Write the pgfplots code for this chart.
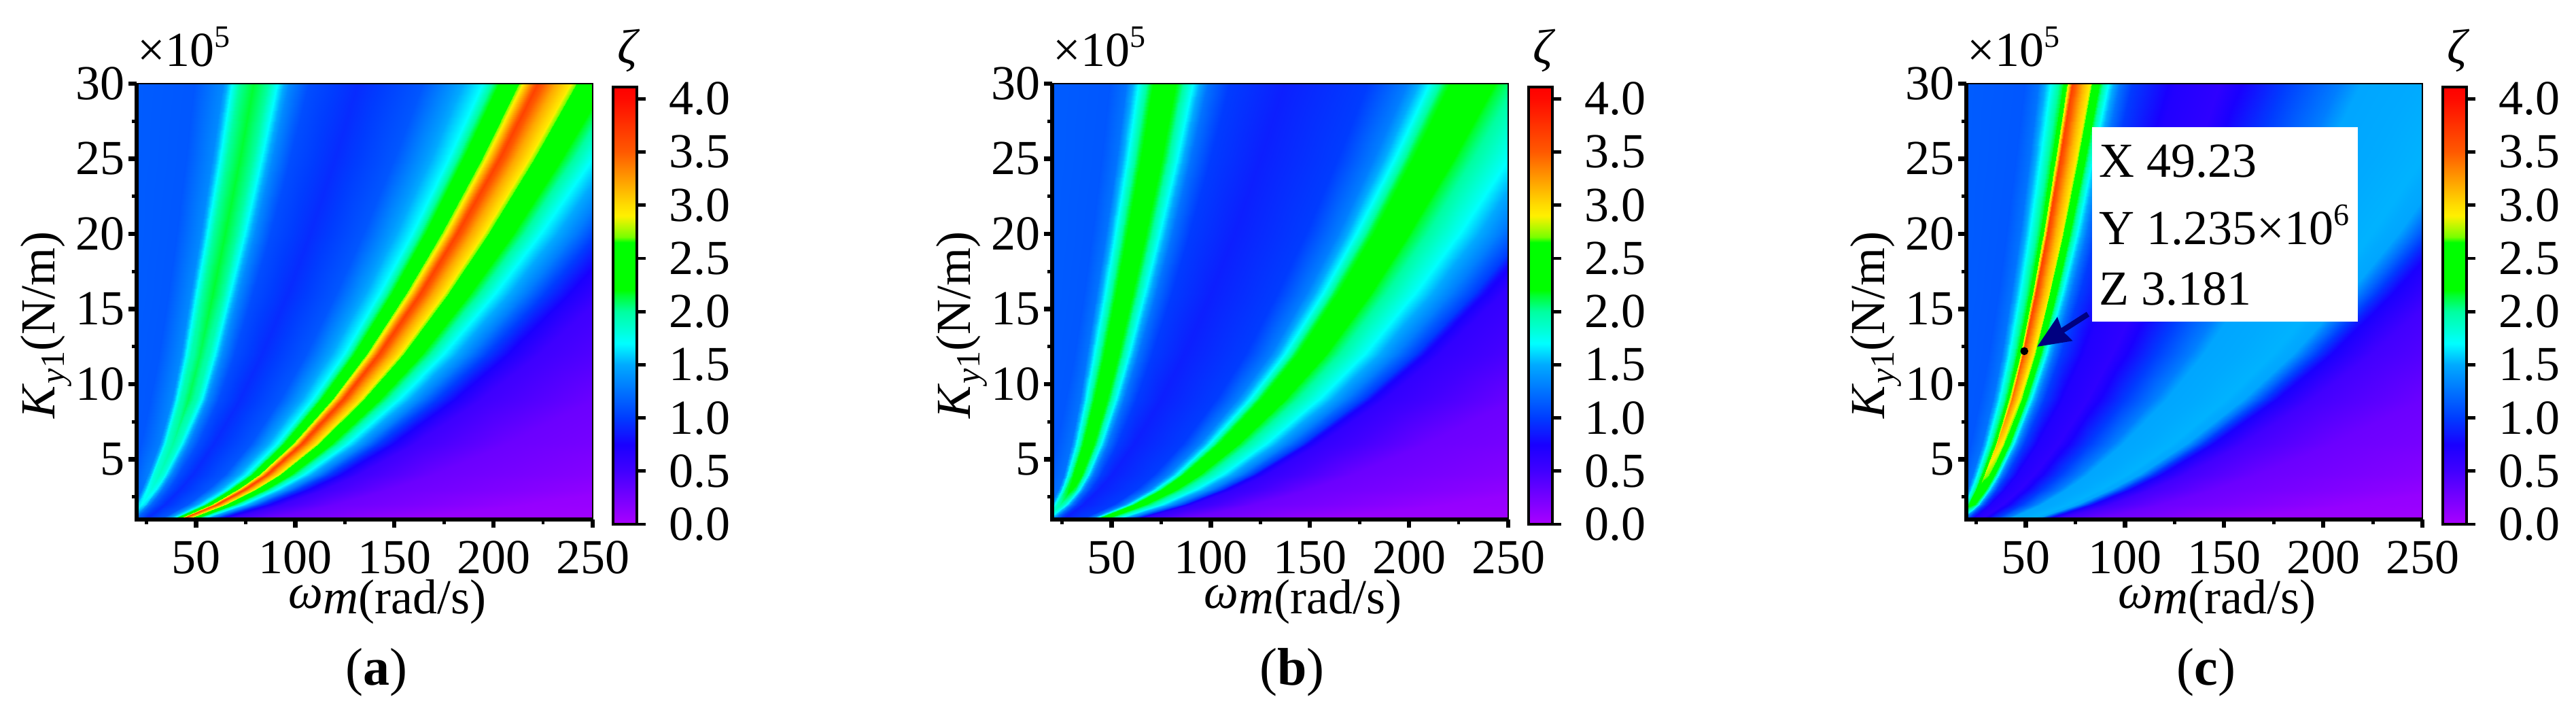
\documentclass[border=0pt]{standalone}
\usepackage{fontspec}
\setmainfont{Liberation Serif}
\usepackage{pgfplots}
\pgfplotsset{compat=1.18}
\usetikzlibrary{arrows.meta}

% 1 px of the reference = 0.25pt
\pgfplotsset{
  colormap={zeta}{
    rgb255(0pt)=(170,0,255); rgb255(50pt)=(65,0,255); rgb255(75pt)=(25,0,255);
    rgb255(100pt)=(0,60,255); rgb255(150pt)=(0,170,255); rgb255(170pt)=(0,255,255);
    rgb255(200pt)=(0,255,160); rgb255(215pt)=(0,255,50); rgb255(220pt)=(0,255,0);
    rgb255(265pt)=(0,255,0); rgb255(270pt)=(120,255,0); rgb255(290pt)=(255,240,0);
    rgb255(300pt)=(255,220,0); rgb255(350pt)=(255,90,0); rgb255(400pt)=(255,10,0);
    rgb255(411pt)=(255,0,0)
  },
  panel/.style={
    scale only axis, width=167.75pt, height=160.3pt,
    anchor=south west,
    xmin=20, xmax=250, ymin=1, ymax=30,
    xtick={50,100,150,200,250}, minor xtick={25,75,125,175,225},
    ytick={5,10,15,20,25,30}, minor ytick={2.5,7.5,12.5,17.5,22.5,27.5},
    xtick pos=bottom, ytick pos=left, tick align=outside,
    axis on top,
    axis line style={line width=0.6pt},
    major tick length=3pt, minor tick length=1.7pt,
    every major tick/.append style={line width=1.6pt, black},
    every minor tick/.append style={line width=1.2pt, black},
    /pgf/number format/assume math mode=true,
    tick label style={font=\fontsize{18}{20}\selectfont, inner sep=0pt},
    xticklabel style={yshift=-4.6pt},
    yticklabel style={xshift=-1.2pt},
    point meta min=0, point meta max=4.11,
    colormap name=zeta,
    colorbar,
    colorbar style={
      at={(parent axis.south east)}, anchor=south west,
      xshift=-1pt, yshift=-1.75pt,
      width=8.75pt, height=160.75pt,
      ytick={0,0.5,1,1.5,2,2.5,3,3.5,4},
      yticklabel pos=right, ytick pos=right, tick align=outside,
      axis line style={line width=1pt},
      major tick length=3.2pt,
      every major tick/.append style={line width=1.2pt, black},
      /pgf/number format/assume math mode=true,
      /pgf/number format/fixed,
      /pgf/number format/fixed zerofill,
      /pgf/number format/precision=1,
      yticklabel shift=8.4pt,
      yticklabel style={font=\fontsize{18}{20}\selectfont, inner sep=0pt},
    },
    extra description/.code={\draw[line width=1.6pt] (0,1)--(0,0)--(1,0);},
  },
}

\begin{document}
\begin{tikzpicture}
\useasboundingbox (0,0) rectangle (947.5pt,-263pt);

% (a)
\begin{axis}[panel, at={(50.25pt,-191pt)}]
\addplot[surf, shader=interp, mesh/cols=30, point meta=explicit] coordinates {
(3,1)[1.15] (9,1)[1.12] (13.1,1)[1.15] (13.9,1)[1.25] (14.6,1)[1.35] (15.9,1)[1.4] (17.2,1)[1.35] (18.1,1)[1.25] (19.2,1)[1.15] (21,1)[1.08] (24,1)[.93] (31.5,1)[1.12] (34.5,1)[1.42] (37,1)[1.7] (38.3,1)[2.15] (40.3,1)[2.65] (40.8,1)[2.95] (42.1,1)[3.65] (43.7,1)[3.2] (45,1)[2.95] (45.7,1)[2.65] (48.7,1)[2.15] (51.5,1)[1.7] (55.3,1)[1.3] (57.9,1)[1] (61.3,1)[.72] (65.5,1)[.52] (84.5,1)[.3] (153.5,1)[.1] (301.5,1)[.02]
(4.2,2)[1.15] (12.7,2)[1.12] (18.5,2)[1.2] (19.6,2)[1.4] (20.6,2)[1.6] (22.5,2)[1.7] (24.3,2)[1.6] (25.6,2)[1.4] (27.1,2)[1.2] (29.7,2)[1.08] (33.9,2)[.93] (45.2,2)[1.12] (49.5,2)[1.42] (53,2)[1.7] (54.8,2)[2.15] (57.7,2)[2.65] (58.4,2)[2.95] (60.2,2)[3.65] (62.5,2)[3.2] (64.3,2)[2.95] (65.3,2)[2.65] (69.5,2)[2.15] (73.5,2)[1.7] (78.9,2)[1.3] (82.5,2)[1] (87.4,2)[.72] (93.3,2)[.52] (120.2,2)[.3] (217.6,2)[.1] (427,2)[.02]
(5.2,3)[1.15] (15.6,3)[1.12] (22.5,3)[1.25] (23.9,3)[1.5] (25.1,3)[1.7] (27.3,3)[1.8] (29.6,3)[1.7] (31.2,3)[1.5] (33.1,3)[1.25] (36.2,3)[1.08] (41.6,3)[.93] (55.7,3)[1.12] (60.9,3)[1.42] (65.2,3)[1.7] (67.4,3)[2.15] (70.9,3)[2.65] (71.8,3)[2.95] (74,3)[3.65] (76.8,3)[3.2] (79,3)[2.95] (80.3,3)[2.65] (85.5,3)[2.15] (90.3,3)[1.7] (96.9,3)[1.3] (101.4,3)[1] (107.3,3)[.72] (114.5,3)[.52] (147.5,3)[.3] (267,3)[.1] (523,3)[.02]
(6,4)[1.15] (18,4)[1.12] (25.6,4)[1.3] (27.2,4)[1.55] (28.6,4)[1.8] (31.2,4)[1.9] (33.8,4)[1.8] (35.6,4)[1.55] (37.8,4)[1.3] (41.4,4)[1.08] (48,4)[.93] (64.2,4)[1.12] (70.2,4)[1.42] (75.2,4)[1.7] (77.8,4)[2.15] (81.8,4)[2.65] (82.8,4)[2.95] (85.4,4)[3.65] (88.6,4)[3.2] (91.2,4)[2.95] (92.6,4)[2.65] (98.6,4)[2.15] (104.2,4)[1.7] (111.8,4)[1.3] (117,4)[1] (123.8,4)[.72] (132.2,4)[.52] (170.2,4)[.3] (308.2,4)[.1] (604,4)[.02]
(7.3,6)[1.15] (22,6)[1.12] (31.4,6)[1.3] (33.4,6)[1.6] (35.1,6)[1.85] (38.3,6)[2] (41.4,6)[1.85] (43.7,6)[1.6] (46.3,6)[1.3] (50.8,6)[1.08] (58.8,6)[.93] (77.1,6)[1.12] (84.4,6)[1.42] (90.5,6)[1.7] (93.7,6)[2.15] (98.6,6)[2.65] (99.8,6)[2.95] (103,6)[3.65] (106.9,6)[3.2] (110.1,6)[2.95] (111.8,6)[2.65] (119.2,6)[2.15] (126.1,6)[1.7] (135.4,6)[1.3] (141.7,6)[1] (150.1,6)[.72] (160.3,6)[.52] (206.9,6)[.3] (375.8,6)[.1] (738,6)[.02]
(9,9)[1.15] (27,9)[1.12] (37.8,9)[1.35] (40.2,9)[1.7] (42.3,9)[1.95] (46.2,9)[2.1] (50.1,9)[1.95] (52.8,9)[1.7] (56.1,9)[1.35] (61.5,9)[1.08] (72,9)[.93] (92.3,9)[1.12] (101.3,9)[1.42] (108.8,9)[1.7] (112.7,9)[2.15] (118.7,9)[2.65] (120.2,9)[2.95] (124.1,9)[3.65] (128.9,9)[3.2] (132.8,9)[2.95] (134.9,9)[2.65] (143.9,9)[2.15] (152.3,9)[1.7] (163.7,9)[1.3] (171.5,9)[1] (181.7,9)[.72] (194.3,9)[.52] (251.3,9)[.3] (458.3,9)[.1] (902,9)[.02]
(10.4,12)[1.15] (31.2,12)[1.12] (42.2,12)[1.35] (45,12)[1.7] (47.4,12)[1.95] (51.9,12)[2.1] (56.4,12)[1.95] (59.5,12)[1.7] (63.3,12)[1.35] (69.5,12)[1.08] (83.1,12)[.93] (105.4,12)[1.12] (115.8,12)[1.42] (124.5,12)[1.7] (129,12)[2.15] (135.9,12)[2.65] (137.6,12)[2.95] (142.1,12)[3.65] (147.7,12)[3.2] (152.2,12)[2.95] (154.6,12)[2.65] (165,12)[2.15] (174.7,12)[1.7] (187.9,12)[1.3] (196.9,12)[1] (208.6,12)[.72] (223.2,12)[.52] (289,12)[.3] (527.7,12)[.1] (1041,12)[.02]
(12,16)[1.15] (36,16)[1.12] (47.1,16)[1.35] (50.3,16)[1.7] (53.1,16)[2] (58.3,16)[2.15] (63.5,16)[2] (67.1,16)[1.7] (71.5,16)[1.35] (78.7,16)[1.08] (96,16)[.93] (120.5,16)[1.12] (132.5,16)[1.42] (142.5,16)[1.7] (147.7,16)[2.15] (155.7,16)[2.65] (157.7,16)[2.95] (162.9,16)[3.65] (169.3,16)[3.2] (174.5,16)[2.95] (177.3,16)[2.65] (189.3,16)[2.15] (200.5,16)[1.7] (215.7,16)[1.3] (226.1,16)[1] (239.7,16)[.72] (256.5,16)[.52] (332.5,16)[.3] (608.5,16)[.1] (1200,16)[.02]
(13.4,20)[1.15] (40.2,20)[1.12] (52.2,20)[1.35] (55.8,20)[1.7] (58.9,20)[2] (64.7,20)[2.15] (70.5,20)[2] (74.5,20)[1.7] (79.5,20)[1.35] (87.5,20)[1.08] (107.3,20)[.93] (134.2,20)[1.12] (147.6,20)[1.42] (158.8,20)[1.7] (164.6,20)[2.15] (173.5,20)[2.65] (175.8,20)[2.95] (181.6,20)[3.65] (188.7,20)[3.2] (194.5,20)[2.95] (197.7,20)[2.65] (211.1,20)[2.15] (223.6,20)[1.7] (240.6,20)[1.3] (252.2,20)[1] (267.4,20)[.72] (286.2,20)[.52] (371.2,20)[.3] (679.7,20)[.1] (1342,20)[.02]
(15,25)[1.15] (45,25)[1.12] (58,25)[1.35] (62,25)[1.7] (65.5,25)[2] (72,25)[2.15] (78.5,25)[2] (83,25)[1.7] (88.5,25)[1.35] (97.5,25)[1.08] (120,25)[.93] (150,25)[1.12] (165,25)[1.42] (177.5,25)[1.7] (184,25)[2.15] (194,25)[2.65] (196.5,25)[2.95] (203,25)[3.65] (211,25)[3.2] (217.5,25)[2.95] (221,25)[2.65] (236,25)[2.15] (250,25)[1.7] (269,25)[1.3] (282,25)[1] (299,25)[.72] (320,25)[.52] (415,25)[.3] (760,25)[.1] (1500,25)[.02]
(16.4,30)[1.15] (49.3,30)[1.12] (63.5,30)[1.35] (67.9,30)[1.7] (71.7,30)[2] (78.9,30)[2.15] (86,30)[2] (90.9,30)[1.7] (96.9,30)[1.35] (106.8,30)[1.08] (131.4,30)[.93] (164.3,30)[1.12] (180.7,30)[1.42] (194.4,30)[1.7] (201.6,30)[2.15] (212.5,30)[2.65] (215.2,30)[2.95] (222.4,30)[3.65] (231.1,30)[3.2] (238.2,30)[2.95] (242.1,30)[2.65] (258.5,30)[2.15] (273.9,30)[1.7] (294.7,30)[1.3] (308.9,30)[1] (327.5,30)[.72] (350.5,30)[.52] (454.6,30)[.3] (832.5,30)[.1] (1643,30)[.02]
};
\end{axis}

% (b)
\begin{axis}[panel, at={(387pt,-191pt)}]
\addplot[surf, shader=interp, mesh/cols=26, point meta=explicit] coordinates {
(3,1)[1.15] (9,1)[1.12] (13.5,1)[1.2] (14.6,1)[1.4] (15.7,1)[1.6] (17,1)[1.7] (18.3,1)[1.6] (19.6,1)[1.4] (21,1)[1.2] (23,1)[1] (25,1)[.88] (34.5,1)[1] (38.1,1)[1.3] (40.2,1)[1.7] (41.7,1)[2.15] (44.3,1)[2.45] (46.6,1)[2.15] (47.6,1)[2.05] (51.3,1)[1.75] (56.3,1)[1.3] (59.2,1)[1] (60.4,1)[.78] (62.8,1)[.6] (84.8,1)[.3] (153.8,1)[.1] (301.8,1)[.02]
(4.2,2)[1.15] (12.7,2)[1.12] (19.1,2)[1.25] (20.7,2)[1.6] (22.3,2)[1.9] (24.1,2)[2] (25.9,2)[1.9] (27.8,2)[1.6] (29.8,2)[1.25] (32.6,2)[1] (35.4,2)[.88] (50.7,2)[1] (55.8,2)[1.3] (58.8,2)[1.7] (60.9,2)[2.15] (64.6,2)[2.45] (67.8,2)[2.15] (69.3,2)[2.05] (74.5,2)[1.75] (81.6,2)[1.3] (85.7,2)[1] (87.4,2)[.78] (90.8,2)[.6] (121.9,2)[.3] (219.4,2)[.1] (428.5,2)[.02]
(5.2,3)[1.15] (15.6,3)[1.12] (23.2,3)[1.25] (25.1,3)[1.7] (27,3)[2.1] (29.2,3)[2.25] (31.5,3)[2.1] (33.8,3)[1.7] (36.2,3)[1.25] (39.6,3)[1] (43.3,3)[.88] (62.3,3)[1] (68.6,3)[1.3] (72.2,3)[1.7] (74.8,3)[2.15] (79.3,3)[2.45] (83.3,3)[2.15] (85,3)[2.05] (91.4,3)[1.75] (100.1,3)[1.3] (105.1,3)[1] (107.2,3)[.78] (111.4,3)[.6] (149.5,3)[.3] (269,3)[.1] (525.7,3)[.02]
(6,4)[1.15] (18,4)[1.12] (25.8,4)[1.25] (28,4)[1.7] (30.2,4)[2.15] (32.8,4)[2.4] (35.4,4)[2.15] (38,4)[1.7] (40.8,4)[1.25] (44.8,4)[1] (50,4)[.88] (71.2,4)[1] (78.4,4)[1.3] (82.6,4)[1.7] (85.6,4)[2.15] (90.8,4)[2.45] (95.4,4)[2.15] (97.4,4)[2.05] (104.8,4)[1.75] (114.8,4)[1.3] (120.6,4)[1] (123,4)[.78] (127.8,4)[.6] (171.8,4)[.3] (309.8,4)[.1] (605.8,4)[.02]
(7.3,6)[1.15] (22,6)[1.12] (29.7,6)[1.25] (32.4,6)[1.7] (35.1,6)[2.15] (38.3,6)[2.4] (41.5,6)[2.15] (44.7,6)[1.7] (48.1,6)[1.25] (53,6)[1] (61.2,6)[.88] (85.3,6)[1] (94.1,6)[1.3] (99.2,6)[1.7] (102.9,6)[2.15] (109.3,6)[2.45] (114.9,6)[2.15] (117.4,6)[2.05] (126.4,6)[1.75] (138.7,6)[1.3] (145.8,6)[1] (148.7,6)[.78] (154.6,6)[.6] (208.5,6)[.3] (377.4,6)[.1] (739.7,6)[.02]
(9,9)[1.15] (27,9)[1.12] (34,9)[1.25] (37.3,9)[1.7] (40.6,9)[2.15] (44.5,9)[2.4] (48.4,9)[2.15] (52.3,9)[1.7] (56.5,9)[1.25] (62.5,9)[1] (75,9)[.88] (102.6,9)[1] (113.4,9)[1.3] (119.7,9)[1.7] (124.2,9)[2.15] (132,9)[2.45] (138.9,9)[2.15] (141.9,9)[2.05] (153,9)[1.75] (168,9)[1.3] (176.7,9)[1] (180.3,9)[.78] (187.5,9)[.6] (253.5,9)[.3] (460.5,9)[.1] (904.5,9)[.02]
(10.4,12)[1.15] (31.2,12)[1.12] (37.6,12)[1.25] (41.4,12)[1.7] (45.2,12)[2.15] (49.7,12)[2.4] (54.2,12)[2.15] (58.7,12)[1.7] (63.6,12)[1.25] (70.5,12)[1] (86.6,12)[.88] (117.5,12)[1] (129.9,12)[1.3] (137.2,12)[1.7] (142.4,12)[2.15] (151.4,12)[2.45] (159.4,12)[2.15] (162.9,12)[2.05] (175.7,12)[1.75] (193,12)[1.3] (203,12)[1] (207.2,12)[.78] (215.5,12)[.6] (291.7,12)[.3] (530.7,12)[.1] (1043,12)[.02]
(12,16)[1.15] (36,16)[1.12] (42.3,16)[1.25] (46.7,16)[1.7] (51.1,16)[2.15] (56.3,16)[2.4] (61.5,16)[2.15] (66.7,16)[1.7] (72.3,16)[1.25] (80.3,16)[1] (100,16)[.88] (133.6,16)[1] (148,16)[1.3] (156.4,16)[1.7] (162.4,16)[2.15] (172.8,16)[2.45] (182,16)[2.15] (186,16)[2.05] (200.8,16)[1.75] (220.8,16)[1.3] (232.4,16)[1] (237.2,16)[.78] (246.8,16)[.6] (334.8,16)[.3] (610.8,16)[.1] (1203,16)[.02]
(13.4,20)[1.15] (40.2,20)[1.12] (47,20)[1.25] (51.9,20)[1.7] (56.8,20)[2.15] (62.6,20)[2.4] (68.4,20)[2.15] (74.2,20)[1.7] (80.5,20)[1.25] (89.4,20)[1] (111.8,20)[.88] (147.7,20)[1] (163.8,20)[1.3] (173.2,20)[1.7] (179.9,20)[2.15] (191.6,20)[2.45] (201.8,20)[2.15] (206.3,20)[2.05] (222.9,20)[1.75] (245.2,20)[1.3] (258.2,20)[1] (263.6,20)[.78] (274.3,20)[.6] (372.7,20)[.3] (681.2,20)[.1] (1343.5,20)[.02]
(15,25)[1.15] (45,25)[1.12] (52.5,25)[1.25] (58,25)[1.7] (63.5,25)[2.15] (70,25)[2.4] (76.5,25)[2.15] (83,25)[1.7] (90,25)[1.25] (100,25)[1] (125,25)[.88] (164.1,25)[1] (182.1,25)[1.3] (192.6,25)[1.7] (200.1,25)[2.15] (213.1,25)[2.45] (224.6,25)[2.15] (229.6,25)[2.05] (248.1,25)[1.75] (273.1,25)[1.3] (287.6,25)[1] (293.6,25)[.78] (305.6,25)[.6] (415.6,25)[.3] (760.6,25)[.1] (1501,25)[.02]
(16.4,30)[1.15] (49.3,30)[1.12] (57.5,30)[1.25] (63.5,30)[1.7] (69.6,30)[2.15] (76.7,30)[2.4] (83.8,30)[2.15] (90.9,30)[1.7] (98.6,30)[1.25] (109.5,30)[1] (136.9,30)[.88] (179.1,30)[1] (198.8,30)[1.3] (210.3,30)[1.7] (218.5,30)[2.15] (232.8,30)[2.45] (245.4,30)[2.15] (250.8,30)[2.05] (271.1,30)[1.75] (298.5,30)[1.3] (314.4,30)[1] (321,30)[.78] (334.1,30)[.6] (454.6,30)[.3] (832.5,30)[.1] (1643,30)[.02]
};
\end{axis}

% (c)
\begin{axis}[panel, at={(723.25pt,-191pt)}]
\addplot[surf, shader=interp, mesh/cols=29, point meta=explicit] coordinates {
(3,1)[1.15] (9,1)[1.12] (12.3,1)[1.1] (13.4,1)[1.2] (14.5,1)[1.35] (14.9,1)[1.45] (15.1,1)[1.5] (15.4,1)[1.6] (16.4,1)[1.5] (17,1)[1.45] (17.2,1)[1.4] (18,1)[1.3] (18.7,1)[1.2] (19.8,1)[1.1] (20.9,1)[.9] (23,1)[.7] (27,1)[.62] (34,1)[1] (39,1)[1.3] (41,1)[1.48] (51,1)[1.52] (54,1)[1.48] (56,1)[1.2] (57.8,1)[.95] (59.6,1)[.75] (65.5,1)[.5] (84,1)[.3] (153,1)[.1] (301,1)[.02]
(4.2,2)[1.15] (12.7,2)[1.12] (17.4,2)[1.2] (18.9,2)[1.55] (20.5,2)[1.95] (21,2)[2.15] (21.3,2)[2.2] (21.7,2)[2.3] (23.2,2)[2.25] (23.9,2)[2.2] (24.3,2)[2.15] (25.4,2)[1.95] (26.4,2)[1.55] (28,2)[1.2] (29.5,2)[.95] (32.5,2)[.7] (38.2,2)[.62] (47.7,2)[1] (54.7,2)[1.3] (57.6,2)[1.48] (71.7,2)[1.52] (75.9,2)[1.48] (78.8,2)[1.2] (81.3,2)[.95] (83.9,2)[.75] (92.2,2)[.5] (118.4,2)[.3] (215.9,2)[.1] (425,2)[.02]
(5.2,3)[1.15] (15.6,3)[1.12] (20.6,3)[1.25] (22.5,3)[1.65] (24.5,3)[2.05] (25.1,3)[2.3] (25.5,3)[2.4] (26,3)[2.55] (27.7,3)[2.45] (28.7,3)[2.4] (29.1,3)[2.3] (30.5,3)[2.05] (31.7,3)[1.65] (33.6,3)[1.25] (35.5,3)[1] (39.8,3)[.7] (46.8,3)[.62] (58.2,3)[1] (66.8,3)[1.3] (70.3,3)[1.48] (87.6,3)[1.52] (92.8,3)[1.48] (96.3,3)[1.2] (99.4,3)[.95] (102.5,3)[.75] (112.7,3)[.5] (144.8,3)[.3] (264.3,3)[.1] (521,3)[.02]
(6,4)[1.15] (18,4)[1.12] (23.2,4)[1.25] (25.4,4)[1.7] (27.6,4)[2.1] (28.4,4)[2.4] (28.8,4)[2.55] (29.4,4)[2.8] (31.4,4)[2.7] (32.5,4)[2.55] (33,4)[2.4] (34.6,4)[2.1] (36,4)[1.7] (38.2,4)[1.25] (40.4,4)[1] (46,4)[.7] (54,4)[.62] (67,4)[1] (77,4)[1.3] (81,4)[1.48] (101,4)[1.52] (107,4)[1.48] (111,4)[1.2] (114.6,4)[.95] (118.2,4)[.75] (130,4)[.5] (167,4)[.3] (305,4)[.1] (601,4)[.02]
(7.3,6)[1.15] (22,6)[1.12] (27.9,6)[1.25] (30.6,6)[1.7] (33.3,6)[2.15] (34.3,6)[2.5] (34.8,6)[2.65] (35.5,6)[3.1] (38,6)[2.9] (39.3,6)[2.65] (39.9,6)[2.5] (41.9,6)[2.15] (43.6,6)[1.7] (46.3,6)[1.25] (49,6)[1] (56.3,6)[.7] (66.1,6)[.62] (81.8,6)[1] (94.1,6)[1.3] (99,6)[1.48] (123.5,6)[1.52] (130.8,6)[1.48] (135.7,6)[1.2] (140.1,6)[.95] (144.5,6)[.75] (159,6)[.5] (204.3,6)[.3] (373.2,6)[.1] (736,6)[.02]
(9,9)[1.15] (27,9)[1.12] (33.5,9)[1.25] (36.8,9)[1.7] (40.1,9)[2.15] (41.3,9)[2.6] (41.9,9)[2.8] (42.8,9)[3.4] (45.8,9)[3.05] (47.5,9)[2.8] (48.2,9)[2.6] (50.6,9)[2.15] (52.7,9)[1.7] (56,9)[1.25] (59.3,9)[1] (69,9)[.7] (81,9)[.62] (100,9)[1] (115,9)[1.3] (121,9)[1.48] (151,9)[1.52] (160,9)[1.48] (166,9)[1.2] (171.4,9)[.95] (176.8,9)[.75] (194.5,9)[.5] (250,9)[.3] (457,9)[.1] (901,9)[.02]
(10.4,12)[1.15] (31.2,12)[1.12] (37.9,12)[1.25] (41.7,12)[1.7] (45.5,12)[2.15] (46.9,12)[2.6] (47.6,12)[2.9] (48.6,12)[3.55] (52.1,12)[3.1] (54,12)[2.9] (54.9,12)[2.6] (57.6,12)[2.15] (60,12)[1.7] (63.9,12)[1.25] (67.7,12)[1] (79.7,12)[.7] (93.5,12)[.62] (115.3,12)[1] (132.6,12)[1.3] (139.6,12)[1.48] (174.2,12)[1.52] (184.6,12)[1.48] (191.5,12)[1.2] (197.8,12)[.95] (204,12)[.75] (224.4,12)[.5] (288.5,12)[.3] (527.5,12)[.1] (1040,12)[.02]
(12,16)[1.15] (36,16)[1.12] (42.7,16)[1.25] (47.1,16)[1.7] (51.5,16)[2.15] (53.1,16)[2.65] (53.9,16)[3] (55.1,16)[3.65] (59.1,16)[3.15] (61.3,16)[2.95] (62.3,16)[2.65] (65.5,16)[2.15] (68.3,16)[1.7] (72.7,16)[1.25] (77.1,16)[1] (92,16)[.7] (108,16)[.62] (132.5,16)[1] (152.5,16)[1.3] (160.5,16)[1.48] (200.5,16)[1.52] (212.5,16)[1.48] (220.5,16)[1.2] (227.7,16)[.95] (234.9,16)[.75] (258.5,16)[.5] (332.5,16)[.3] (608.5,16)[.1] (1200,16)[.02]
(13.4,20)[1.15] (40.2,20)[1.12] (47.1,20)[1.25] (52,20)[1.7] (56.9,20)[2.15] (58.7,20)[2.65] (59.6,20)[3] (60.9,20)[3.65] (65.4,20)[3.15] (67.9,20)[2.95] (69,20)[2.65] (72.6,20)[2.15] (75.7,20)[1.7] (80.6,20)[1.25] (85.5,20)[1] (102.9,20)[.7] (120.7,20)[.62] (148.1,20)[1] (170.4,20)[1.3] (179.4,20)[1.48] (224.1,20)[1.52] (237.5,20)[1.48] (246.5,20)[1.2] (254.5,20)[.95] (262.6,20)[.75] (289,20)[.5] (371.7,20)[.3] (680.2,20)[.1] (1342,20)[.02]
(15,25)[1.15] (45,25)[1.12] (51.9,25)[1.25] (57.4,25)[1.7] (62.9,25)[2.15] (64.9,25)[2.65] (65.9,25)[3] (67.4,25)[3.65] (72.4,25)[3.15] (75.2,25)[2.95] (76.4,25)[2.65] (80.4,25)[2.15] (83.9,25)[1.7] (89.4,25)[1.25] (94.9,25)[1] (115,25)[.7] (135,25)[.62] (165,25)[1] (190,25)[1.3] (200,25)[1.48] (250,25)[1.52] (265,25)[1.48] (275,25)[1.2] (284,25)[.95] (293,25)[.75] (322.5,25)[.5] (415,25)[.3] (760,25)[.1] (1500,25)[.02]
(16.4,30)[1.15] (49.3,30)[1.12] (56.4,30)[1.25] (62.4,30)[1.7] (68.5,30)[2.15] (70.7,30)[2.65] (71.7,30)[3] (73.4,30)[3.65] (78.9,30)[3.15] (81.9,30)[2.95] (83.3,30)[2.65] (87.6,30)[2.15] (91.5,30)[1.7] (97.5,30)[1.25] (103.5,30)[1] (126,30)[.7] (147.9,30)[.62] (180.7,30)[1] (208.1,30)[1.3] (219.1,30)[1.48] (273.9,30)[1.52] (290.3,30)[1.48] (301.2,30)[1.2] (311.1,30)[.95] (321,30)[.75] (353.3,30)[.5] (454.6,30)[.3] (832.5,30)[.1] (1643,30)[.02]
};
\addplot[only marks, mark=*, mark size=1.25pt, black] coordinates {(49.23,12.2)};
\end{axis}

\begin{scope}[x=0.25pt, y=-0.25pt]
\foreach \dx/\lab in {0/a,1347/b,2692/c}{
  \begin{scope}[xshift=0.25*\dx pt]
    \node[anchor=base west, inner sep=0pt, font=\fontsize{18}{20}\selectfont] at (202,97)
      {×10{\fontsize{11.5}{12}\selectfont\raisebox{7pt}{5}}};
    \node[anchor=base, inner sep=0pt, font=\fontsize{18}{20}\selectfont] at (925,93) {\textit{ζ}};
    \node[anchor=base, inner sep=0pt, rotate=90, font=\fontsize{18}{20}\selectfont] at (80,478)
      {\textit{K}\raisebox{-3.5pt}{\fontsize{12.5}{13}\selectfont\textit{y}1}(N/m)};
    \node[anchor=base, inner sep=0pt, font=\fontsize{18}{20}\selectfont] at (570,902)
      {\raisebox{2pt}{\textit{ω}}\textit{m}(rad/s)};
    \node[anchor=base, inner sep=0pt, font=\fontsize{19.5}{22}\selectfont] at (554,1007)
      {(\textbf{\lab})};
  \end{scope}
}
% data box of (c)
\fill[white] (3078,187) rectangle (3469,473);
\begin{scope}[font=\fontsize{18}{20}\selectfont]
  \node[anchor=base west, inner sep=0pt] at (3088,260) {X 49.23};
  \node[anchor=base west, inner sep=0pt] at (3088,359) {Y 1.235×10{\fontsize{11.5}{12}\selectfont\raisebox{7pt}{6}}};
  \node[anchor=base west, inner sep=0pt] at (3088,448) {Z 3.181};
\end{scope}
\draw[line width=2pt, color={rgb,255:red,0;green,0;blue,128},
  -{Stealth[length=12pt,width=10pt,inset=1pt]}] (3072,462) -- (2997,510);
\end{scope}
\end{tikzpicture}
\end{document}
